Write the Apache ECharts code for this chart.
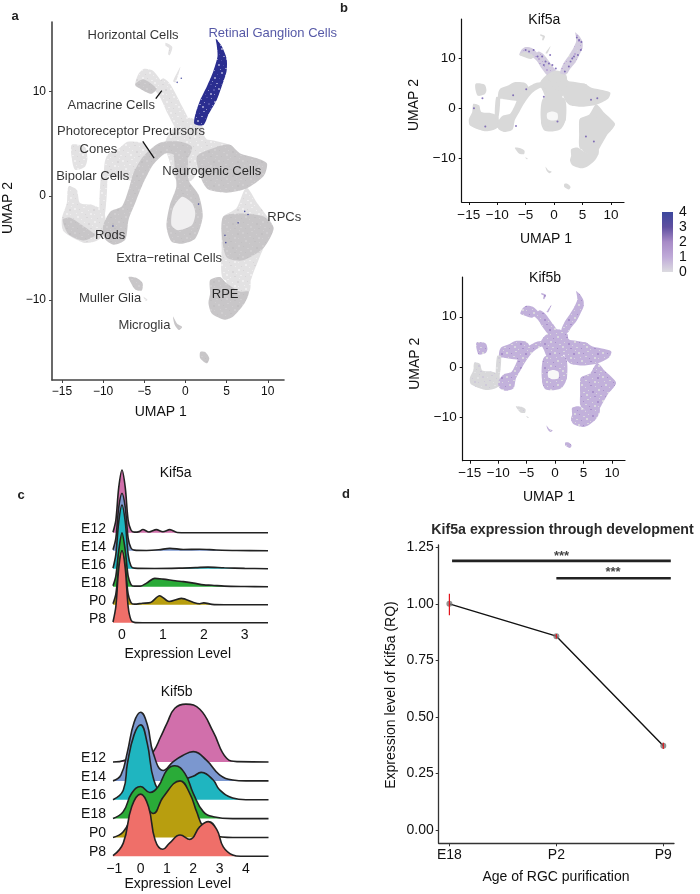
<!DOCTYPE html>
<html>
<head>
<meta charset="utf-8">
<style>html,body{margin:0;padding:0;background:#fff}#c{width:700px;height:894px}</style>
<script src="https://cdn.jsdelivr.net/npm/echarts@6/dist/echarts.min.js"></script>
</head>
<body>
<div id="c"></div>
<script>
// ---------- UMAP cluster outlines, in UMAP units ----------
const rgcOutline = [[3.7,15.1],[4.4,14.4],[5,13.2],[5,12],[4.4,10.5],[3.8,9.2],[2.8,7.8],[2.2,6.8],[1.1,6.9],[1.2,7.8],[1.8,9.2],[2.6,10.5],[3.4,12],[3.9,13.4],[3.8,14.5]];
const amacrine = [[-6.1,10.8],[-5.7,11.7],[-5,12.2],[-3.9,12],[-2.7,10.7],[-1.5,8.9],[-0.2,6.5],[-0.9,6.2],[-2.1,7.8],[-3.1,9.5],[-4,10.3],[-5.1,10.3],[-6,10.5]];
const amacrineDark = [[-6.1,10.7],[-5.1,11.2],[-3.5,10.3],[-4.1,9.8],[-5.3,10.2]];
const amacrineStrand = [[-2.7,11.3],[-1.9,10.8],[-0.4,8.6],[0.8,6.5],[0,6.2],[-1.3,7.8],[-2.3,9.6],[-3.1,10.9]];
const horizontalCells = [[-2.4,14.7],[-1.6,14.3],[-1.9,13.5],[-2.1,13.6],[-2,14.2],[-2.4,14.4]];
const horizontalStrand = [[-0.6,12.4],[-0.9,12],[-1.5,11],[-1.2,10.9]];
const conesCluster = [[-13.8,4.9],[-12.2,4.7],[-11.9,3.6],[-12.2,2.8],[-13.4,2.5],[-13.8,3.6]];
const bipolarLight = [[-14.2,0.9],[-13.2,0.6],[-12.8,-0.7],[-11.2,-0.9],[-9.9,-1.5],[-9.7,-3.6],[-11,-4.4],[-12.4,-4.5],[-14.8,-3.4],[-15,-2.2],[-14.4,-0.7]];
const bipolarDense = [[-14.9,-2.3],[-14,-2.1],[-12.4,-2.9],[-11,-3.8],[-12.4,-4.3],[-14.2,-3.7]];
const upperLobe = [[-9.8,3.2],[-9.4,4],[-8,4.6],[-7,5.2],[-5,5],[-4.4,3.8],[-5.2,1.5],[-7.6,1.6],[-8.7,1.8],[-9.8,2]];
const lobeStrip = [[-10.2,2.2],[-9.5,2.2],[-9.8,-2],[-10.4,-2]];
const photoreceptorArc = [[-10,-2.9],[-9.1,-1.5],[-7.7,-1],[-6.9,0.6],[-6.3,2.2],[-5.1,3.8],[-3.1,5.1],[-0.6,5.2],[0.8,4.7],[0.2,3.6],[-2.3,4.1],[-3.9,3],[-5.3,0.9],[-6.1,-0.7],[-6.9,-2.3],[-7.3,-4.2],[-8.7,-4.7],[-9.8,-4.1]];
const centerMass = [[-1.5,6.5],[0.5,7.5],[2.2,6.5],[2,3.5],[0.8,1.5],[-1.1,1.5],[-2,3.5],[-2.5,5]];
const junction = [[-1.2,6.3],[1.2,7],[2,6],[2.6,5.3],[0.8,4.7],[-0.6,5.2]];
const connector = [[0.2,5.1],[2.6,5.4],[5.8,4.7],[3.8,3.8],[1.8,3.5],[0.4,3.8]];
const neuroLoop = [[-1.3,4.7],[0.2,3.8],[0.4,1.5],[1.6,0.1],[2.1,-2],[1.2,-4.1],[-0.4,-4.6],[-1.7,-4.4],[-2.3,-2.9],[-1.9,-0.9],[-1.1,0.9],[-1.3,2.8]];
const neuroLoopHole = [[-1.5,-1.2],[-0.4,-0.1],[0.8,-0.7],[1.2,-1.7],[0.8,-2.8],[-0.9,-3.3],[-1.7,-2.8]];
const loopFillB = [[-1.9,2],[1.8,2],[2.1,-2],[1.2,-3.6],[-1.2,-3.6],[-2.3,-2.5]];
const loopHoleB = [[-1.2,-0.9],[-0.2,-0.6],[0.6,-1],[0.6,-2.2],[-0.5,-2.4],[-1.2,-2]];
const neuroRight = [[1.4,3.8],[3.8,4.7],[5.4,4.9],[6.6,4.1],[8.7,3.6],[9.9,3.1],[9.5,1.9],[7.4,0.7],[5,0.3],[2.8,0.6],[2,1.5]];
const rpcLight = [[7.4,0.8],[8.7,-0.7],[10.7,-3.1],[9.5,-5],[8.2,-7.5],[7.8,-8.2],[4.6,-8],[4.4,-5],[4.4,-3.6],[4.6,-2],[6.2,-1.2]];
const rpcDense = [[4.6,-2],[6.7,-1.7],[9.5,-2],[10.7,-3.1],[9.5,-5],[7,-6.2],[5,-5.9],[4.4,-3.6]];
const rpeDense = [[3,-8.1],[4.2,-7.8],[5,-8.4],[6.6,-9.2],[7.7,-9.2],[7.2,-10.3],[5.8,-11.6],[4.8,-11.9],[3.2,-11.3],[2.8,-10.3],[3,-9.4]];
const rpeLight = [[5,-8.1],[5.8,-7.6],[7.7,-7.4],[7.8,-9.2],[6.6,-9.4],[5,-8.4]];
const mullerGlia = [[-6.9,-7.8],[-5.9,-7.9],[-5.2,-8.4],[-5.3,-9.1],[-6.1,-9],[-6.6,-8.4]];
const mullerTail = [[-5.1,-9.7],[-4.6,-10],[-4.8,-10.1]];
const microglia = [[-1.5,-11.6],[-1,-12.3],[-0.4,-12.6],[-0.8,-12.9],[-1.3,-12.4]];
const lastCluster = [[1.8,-15],[2.4,-15],[2.9,-15.6],[2.6,-16.1],[1.8,-15.6]];

// ---------- expressing cells picked out by eye ----------
const panelAOutliers = [[4.8,-3.8],[4.9,-4.5],[7.2,-1.5],[7.6,-1.8],[-0.5,11.3],[-1,10.9],[1.6,-0.8],[-8.8,-2.9],[6.4,-2.6]];
const kif5aCells = [[-5,11.6],[-4.4,11.3],[-3.6,11.6],[-2.9,10.3],[-2.1,10.3],[-1.5,9.3],[-0.9,8.9],[-0.3,8.6],[-1.8,8.6],[-0.7,10.6],[0.3,7.9],[2.9,9.3],[3.5,10.3],[2.6,8.3],[4.2,10.6],[4.7,11.6],[4.8,13.2],[4.4,13.6],[4,14.1],[3.2,9.9],[1.9,7.3],[-4.9,3.8],[-7.2,2.6],[-12.6,2],[-14.1,0],[-12.1,-3.6],[-6.7,-3.5],[7,-6.6],[5.6,-5.6],[6.5,1.7],[0.6,-2.6],[-1.8,2.3],[7.6,2]];

// ---------- ridge plots ----------
const ridgeLabels = ['P8','P0','E18','E16','E14','E12'];
const ridgeColors = ['#ef6f69','#b89e0f','#2aab38','#1fb5c0','#7b97cf','#d16fab'];

const a12x=[-0.22,-0.15,-0.08,0,0.08,0.15,0.22,0.3,0.42,0.51,0.66,0.84,1.0,1.17,1.35,1.6,3.57];
const a12h=[0.03,0.7,2.5,3.48,2.5,0.7,0.15,0.03,0.06,0.18,0.04,0.17,0.05,0.17,0.01,0,0];
const a14x=[-0.22,-0.15,-0.08,0,0.08,0.15,0.22,0.3,0.6,0.9,1.17,1.5,1.9,2.3,2.8,3.57];
const a14h=[0.05,0.7,2.4,3.19,2.4,0.7,0.15,0.03,0.01,0.05,0.13,0.07,0.08,0.04,0.01,0];
const a16x=[-0.22,-0.15,-0.08,0,0.08,0.15,0.22,0.3,0.8,1.4,1.8,2.1,2.5,3,3.57];
const a16h=[0.03,0.8,2.6,3.54,2.6,0.8,0.15,0.03,0.01,0.03,0.06,0.09,0.05,0.02,0];
const a18x=[-0.22,-0.15,-0.08,0,0.08,0.15,0.22,0.3,0.45,0.6,0.8,1,1.3,1.5,1.75,2,2.2,2.5,3,3.57];
const a18h=[0.05,0.6,2,3,2,0.6,0.12,0.03,0.03,0.2,0.46,0.42,0.33,0.28,0.2,0.1,0.08,0.03,0.01,0];
const a0x=[-0.22,-0.15,-0.08,0,0.08,0.15,0.22,0.3,0.5,0.7,0.92,1.15,1.45,1.75,1.9,2,2.2,2.5,3.57];
const a0h=[0.05,0.6,2,3,2,0.6,0.12,0.03,0.08,0.12,0.5,0.18,0.35,0.12,0.05,0.1,0.02,0,0];
const a8x=[-0.22,-0.15,-0.08,0,0.08,0.15,0.22,0.3,0.5,3.57];
const a8h=[0.04,0.9,3,4,3,0.9,0.15,0.02,0,0];

const b12x=[-1.05,-0.6,-0.2,0,0.3,0.48,0.75,1,1.3,1.72,2.25,2.76,3.27,3.7,4.86];
const b12h=[0,0.1,0.6,0.8,0.45,0.55,1.3,2.05,2.85,3.07,2.8,1.6,0.2,0.02,0];
const b14x=[-1.05,-0.75,-0.5,-0.25,0,0.25,0.48,0.86,1.24,1.6,2,2.5,3,3.5,4,4.86];
const b14h=[0,0.3,1.55,3.1,3.64,3.0,1.47,0.55,1.02,1.35,1.55,1.1,0.32,0.05,0,0];
const b16x=[-1.05,-0.66,-0.5,-0.25,0,0.25,0.5,0.8,1.5,2,2.3,2.75,3,3.5,4,4.86];
const b16h=[0,0.5,1.94,3.44,3.97,3.0,1.06,0.5,1,1.24,1.45,1.06,0.53,0.09,0,0];
const b18x=[-1.05,-0.66,-0.34,0,0.35,0.67,1,1.3,1.68,2,2.38,2.76,3.5,4.86];
const b18h=[0,0.37,1.34,1.7,1.38,1.7,2.58,2.8,2.4,1.34,0.37,0.1,0,0];
const b0x=[-1.05,-0.66,-0.28,0,0.3,0.48,0.86,1.5,1.87,2.13,2.38,2.76,3.5,4.86];
const b0h=[0,0.3,1.27,1.9,1.45,1.27,2.15,3,2.33,1.36,0.56,0.12,0,0];
const b8x=[-1.05,-0.66,-0.34,0,0.3,0.55,0.84,1.1,1.5,1.87,2.25,2.57,2.9,3.14,3.5,3.8,4.86];
const b8h=[0.03,0.7,2.63,3.3,2.63,0.87,0.37,0.7,1.13,0.9,1.57,1.84,1.4,0.5,0.07,0,0];

// ---------- panel d ----------
const ages = ['E18','P2','P9'];
const kif5aRQ = [1.0,0.857,0.372];
const rqLow = [0.949,0.847,0.358];
const rqHigh = [1.044,0.867,0.386];
const sigTop = [[0.025,1.19],[2.07,1.19]];
const sigLow = [[1,1.113],[2.07,1.113]];

// ---------- panel a labels ----------
const cellLabels = [
 ['Horizontal Cells',-6.36,15.4],['Amacrine Cells',-9,8.65],['Photoreceptor Precursors',-6.6,6.19],
 ['Cones',-10.57,4.49],['Bipolar Cells',-11.26,1.86],['Neurogenic Cells',3.2,2.34],['Rods',-9.15,-3.78],
 ['Extra\u2212retinal Cells',-1.98,-6.06],['RPE',4.82,-9.52],['Muller Glia',-9.15,-9.87],['Microglia',-4.98,-12.47]
];
const rgcLabel = [['Retinal Ganglion Cells',10.6,15.64]];
const rpcLabel = [['RPCs',12,-2.05]];
const amacrineLeader = [[-3.6,9.33],[-2.87,10.1]];
const precursorLeader = [[-5.18,5.22],[-3.8,3.62]];

// ---------- textures (style only) ----------
const speckle=[[1,2],[5,0],[9,3],[14,1],[19,2],[22,5],[3,6],[7,8],[12,6],[16,7],[20,9],[0,11],[5,12],[10,10],[14,13],[18,12],[23,14],[2,16],[7,17],[11,15],[16,18],[21,17],[4,21],[9,20],[13,22],[18,21],[22,22]];
function tile(bg,dot,dot2){
  const c=document.createElement('canvas');c.width=c.height=24;
  const g=c.getContext('2d');g.fillStyle=bg;g.fillRect(0,0,24,24);
  speckle.forEach((p,i)=>{g.fillStyle=(dot2&&i%3===0)?dot2:dot;g.fillRect(p[0],p[1],(i%2)+1,(i%4===1)?2:1);});
  return {image:c,repeat:'repeat'};
}
const fillLight=tile('#e3e2e3','#efeeef','#d8d6d8');
const fillDense=tile('#c8c6c8','#d0ced0','#c2c0c2');
const fillRgc=tile('#2b2e90','#8f90c6','#4f50a6');
const fillKif5b=tile('#c2b1db','#d9d6de','#a890cb');
const fillKif5bGrey=tile('#d8d8da','#cfcad9','#e2e2e4');
const fillTint=tile('#d3ccdf','#bdaad6','#dadada');

const clusters=[
 {p:amacrine,t:'l'},{p:amacrineStrand,t:'l'},{p:horizontalCells,t:'l'},{p:horizontalStrand,t:'l'},
 {p:conesCluster,t:'l'},{p:bipolarLight,t:'l',g:1},{p:upperLobe,t:'l'},{p:lobeStrip,t:'l',g:1},{p:centerMass,t:'l'},{p:junction,t:'l'},{p:connector,t:'l'},
 {p:rpcLight,t:'l'},{p:rpeLight,t:'l'},{p:mullerTail,t:'l',g:1},
 {p:amacrineDark,t:'d'},{p:bipolarDense,t:'d',g:1},{p:photoreceptorArc,t:'d'},{p:neuroLoop,t:'d'},{p:neuroRight,t:'d'},
 {p:rpcDense,t:'d'},{p:rpeDense,t:'d'},{p:mullerGlia,t:'d',g:1},{p:microglia,t:'d'},{p:lastCluster,t:'d'},
 {p:neuroLoopHole,t:'h',only:'a'},{p:loopFillB,t:'d',only:'b'},{p:loopHoleB,t:'h',only:'b'},{p:rgcOutline,t:'r'}
];
const fillA=c=>c.t==='l'?fillLight:c.t==='d'?fillDense:c.t==='h'?'#f0eff0':fillRgc;
const fillB1=c=>c.t==='h'?'#f7f7f7':c.t==='r'||c.p===amacrine||c.p===amacrineStrand?fillTint:'#d9d9d9';
const fillB2=c=>c.t==='h'?'#f7f7f7':c.g?fillKif5bGrey:fillKif5b;

function clusterSeries(idx,panel,fillOf){
  const list=clusters.filter(c=>!c.only||c.only===panel);
  return {type:'custom',coordinateSystem:'cartesian2d',xAxisIndex:idx,yAxisIndex:idx,silent:true,animation:false,clip:false,z:2,
    data:list.map((c,i)=>[i]),encode:{x:0},
    renderItem:function(params,api){
      const c=list[api.value(0)];
      return {type:'polygon',shape:{points:c.p.map(q=>api.coord(q)),smooth:0.25},style:{fill:fillOf(c)}};
    }};
}
const dash=s=>String(s).replace('-','\u2212');
const FONT='"Liberation Sans",Arial,sans-serif';

function umapAxes(idx,fs,color,lw){
  return {
    x:{gridIndex:idx,type:'value',min:-16.2,max:12.1,splitLine:{show:false},
       axisLine:{onZero:false,lineStyle:{color:color,width:lw}},
       axisTick:{length:3,lineStyle:{color:color,width:1},customValues:[-15,-10,-5,0,5,10]},
       axisLabel:{fontFamily:FONT,fontSize:fs,color:'#111',margin:6,formatter:dash,customValues:[-15,-10,-5,0,5,10],hideOverlap:false,showMinLabel:true,showMaxLabel:true}},
    y:{gridIndex:idx,type:'value',min:-18,max:17,splitLine:{show:false},
       axisLine:{onZero:false,lineStyle:{color:color,width:lw}},
       axisTick:{length:3,lineStyle:{color:color,width:1},customValues:[-10,0,10]},
       axisLabel:{fontFamily:FONT,fontSize:fs,color:'#111',margin:6,formatter:dash,customValues:[-10,0,10]}}
  };
}
// y-range per panel is fixed from the axis pixel extents
const aAxes=umapAxes(0,12,'#444',1.6);aAxes.x.min=-16.2;aAxes.x.max=11.97;aAxes.y.min=-17.7;aAxes.y.max=16.7;
const b1Axes=umapAxes(1,13.5,'#111',1.2);b1Axes.x.min=-16.25;b1Axes.x.max=12.3;b1Axes.y.min=-18.6;b1Axes.y.max=17.75;
const b2Axes=umapAxes(2,13.5,'#111',1.2);b2Axes.x.min=-16.25;b2Axes.x.max=12.3;b2Axes.y.min=-18.6;b2Axes.y.max=17.9;

function ridgeSeries(idx,xs,hs,smooth){
  return xs.map((x,i)=>({type:'line',xAxisIndex:idx,yAxisIndex:idx,name:ridgeLabels[i],
    data:x.map((v,j)=>[v,i+hs[i][j]]),smooth:smooth,showSymbol:false,symbol:'none',animation:false,silent:true,clip:false,
    z:20-i,lineStyle:{color:'#222',width:1.6},areaStyle:{origin:i,color:ridgeColors[i],opacity:1}}));
}
const ridgeLabelY=[0.22,1.22,2.22,3.22,4.22,5.22];
function ridgeAxes(idx,xmin,xmax,ymax,ticks,margin){
  return {
    x:{gridIndex:idx,type:'value',min:xmin,max:xmax,splitLine:{show:false},axisLine:{show:false,onZero:false},axisTick:{show:false},
       axisLabel:{fontFamily:FONT,fontSize:14,color:'#111',margin:margin,formatter:dash,customValues:ticks}},
    y:{gridIndex:idx,type:'value',min:0,max:ymax,splitLine:{show:false},axisLine:{show:false},axisTick:{show:false},
       axisLabel:{fontFamily:FONT,fontSize:14,color:'#111',margin:7,customValues:ridgeLabelY,formatter:v=>ridgeLabels[Math.round(v)]}}
  };
}
const c1Axes=ridgeAxes(3,-0.22,3.57,8.6,[0,1,2,3],5);
const c2Axes=ridgeAxes(4,-1.05,4.86,8.2,[-1,0,1,2,3,4],6);

const dAxisX={gridIndex:5,type:'value',min:-0.1,max:2.1,splitLine:{show:false},
  axisLine:{onZero:false,lineStyle:{color:'#333',width:1.3}},axisTick:{length:3,lineStyle:{color:'#333'},customValues:[0,1,2]},
  axisLabel:{fontFamily:FONT,fontSize:14,color:'#111',margin:5,customValues:[0,1,2],formatter:v=>ages[v]}};
const dAxisY={gridIndex:5,type:'value',min:-0.059,max:1.26,splitLine:{show:false},
  axisLine:{onZero:false,lineStyle:{color:'#333',width:1.3}},axisTick:{length:3,lineStyle:{color:'#333'},customValues:[0,0.25,0.5,0.75,1,1.25]},
  axisLabel:{fontFamily:FONT,fontSize:14,color:'#111',margin:5,customValues:[0,0.25,0.5,0.75,1,1.25],formatter:v=>v.toFixed(2)}};

function labelSeries(rows,color){
  return {type:'scatter',xAxisIndex:0,yAxisIndex:0,symbolSize:0,animation:false,silent:true,clip:false,z:30,
    data:rows.map(r=>({name:r[0],value:[r[1],r[2]]})),
    label:{show:true,position:'inside',formatter:'{b}',fontFamily:FONT,fontSize:13,color:color}};
}
function text(x,y,t,o){
  return Object.assign({type:'text',x:x,y:y,z:50,rotation:(o&&o.rot)||0,
    style:{text:t,fontFamily:FONT,fontSize:(o&&o.fs)||14,fontWeight:(o&&o.w)||'normal',fill:(o&&o.c)||'#111',align:(o&&o.al)||'center',verticalAlign:'middle'}});
}

const chart=echarts.init(document.getElementById('c'),null,{renderer:'canvas'});
chart.setOption({
  animation:false,backgroundColor:'#fff',
  grid:[
    {left:52,top:22,width:232,height:358},
    {left:461.7,top:19,width:162.3,height:183},
    {left:462.7,top:277,width:162.3,height:183.7},
    {left:113,top:467.9,width:155,height:154.8},
    {left:113,top:701.7,width:155.5,height:154.6},
    {left:438.7,top:545,width:235.3,height:298.3},
    {left:662,top:212,width:11,height:60}
  ],
  xAxis:[aAxes.x,b1Axes.x,b2Axes.x,c1Axes.x,c2Axes.x,dAxisX,
    {gridIndex:6,type:'category',data:['scale'],show:false}],
  yAxis:[aAxes.y,b1Axes.y,b2Axes.y,c1Axes.y,c2Axes.y,dAxisY,
    {gridIndex:6,type:'value',min:0,max:4,position:'right',splitLine:{show:false},axisLine:{show:false},axisTick:{show:false},
     axisLabel:{fontFamily:FONT,fontSize:14,color:'#111',margin:6,customValues:[0,1,2,3,4]}}],
  series:[
    clusterSeries(0,'a',fillA),
    {type:'scatter',xAxisIndex:0,yAxisIndex:0,data:panelAOutliers,symbolSize:1.6,itemStyle:{color:'#2b2e90'},z:3,silent:true,animation:false},
    labelSeries(cellLabels,'#000'),
    labelSeries(rgcLabel,'#2b2e90'),
    labelSeries(rpcLabel,'#000'),
    {type:'line',xAxisIndex:0,yAxisIndex:0,data:amacrineLeader,symbol:'none',lineStyle:{color:'#111',width:1.3},z:31,silent:true,animation:false},
    {type:'line',xAxisIndex:0,yAxisIndex:0,data:precursorLeader,symbol:'none',lineStyle:{color:'#111',width:1.3},z:31,silent:true,animation:false},
    clusterSeries(1,'b',fillB1),
    {type:'scatter',xAxisIndex:1,yAxisIndex:1,data:kif5aCells,symbolSize:2,itemStyle:{color:'#6b55ad'},z:3,silent:true,animation:false},
    clusterSeries(2,'b',fillB2),
    ...ridgeSeries(3,[a8x,a0x,a18x,a16x,a14x,a12x],[a8h,a0h,a18h,a16h,a14h,a12h],0.3),
    ...ridgeSeries(4,[b8x,b0x,b18x,b16x,b14x,b12x],[b8h,b0h,b18h,b16h,b14h,b12h],0.45),
    {type:'line',xAxisIndex:5,yAxisIndex:5,name:'Kif5a RQ',data:kif5aRQ.map((v,i)=>[i,v]),
      symbol:'circle',symbolSize:6,itemStyle:{color:'rgba(120,120,120,0.8)'},lineStyle:{color:'#111',width:1.4},z:5,silent:true,animation:false},
    {type:'custom',xAxisIndex:5,yAxisIndex:5,z:6,silent:true,animation:false,data:ages.map((a,i)=>[i,rqLow[i],rqHigh[i]]),encode:{x:0,y:[1,2]},
      renderItem:function(p,api){
        const a=api.coord([api.value(0),api.value(1)]),b=api.coord([api.value(0),api.value(2)]);
        return {type:'line',shape:{x1:a[0],y1:a[1],x2:b[0],y2:b[1]},style:{stroke:'#e3141c',lineWidth:1.2}};
      }},
    {type:'line',xAxisIndex:5,yAxisIndex:5,data:sigTop,symbol:'none',lineStyle:{color:'#222',width:2.6},z:5,silent:true,animation:false,clip:false},
    {type:'line',xAxisIndex:5,yAxisIndex:5,data:sigLow,symbol:'none',lineStyle:{color:'#222',width:2.6},z:5,silent:true,animation:false,clip:false},
    {type:'bar',xAxisIndex:6,yAxisIndex:6,data:[4],barWidth:'100%',silent:true,animation:false,
      itemStyle:{color:new echarts.graphic.LinearGradient(0,1,0,0,[
        {offset:0,color:'#dcdbe0'},{offset:0.25,color:'#bfaad8'},{offset:0.5,color:'#a88bc7'},{offset:0.75,color:'#5f4fa0'},{offset:1,color:'#3c479d'}])}}
  ],
  graphic:[
    text(15,16,'a',{w:'bold',fs:13,c:'#222'}),
    text(344,8,'b',{w:'bold',fs:13,c:'#222'}),
    text(21,495,'c',{w:'bold',fs:13,c:'#222'}),
    text(346,494,'d',{w:'bold',fs:13,c:'#222'}),
    text(160.7,411.7,'UMAP 1'),
    text(8,208,'UMAP 2',{rot:Math.PI/2}),
    text(544.3,20,'Kif5a'),
    text(546,239,'UMAP 1'),
    text(414,105,'UMAP 2',{rot:Math.PI/2}),
    text(545,278,'Kif5b'),
    text(549,496.7,'UMAP 1'),
    text(415,363.7,'UMAP 2',{rot:Math.PI/2}),
    text(175.7,473,'Kif5a'),
    text(177.7,654,'Expression Level'),
    text(176.7,692,'Kif5b'),
    text(177.7,884,'Expression Level'),
    text(562.5,530,'Kif5a expression through development',{w:'bold',fs:14.2,c:'#2a2a2a'}),
    text(391,695,'Expression level of Kif5a (RQ)',{rot:Math.PI/2}),
    text(556,877,'Age of RGC purification'),
    text(561.5,556,'***',{w:'bold',fs:13,c:'#444'}),
    text(613,572.5,'***',{w:'bold',fs:13,c:'#444'})
  ]
});
</script>
</body>
</html>
